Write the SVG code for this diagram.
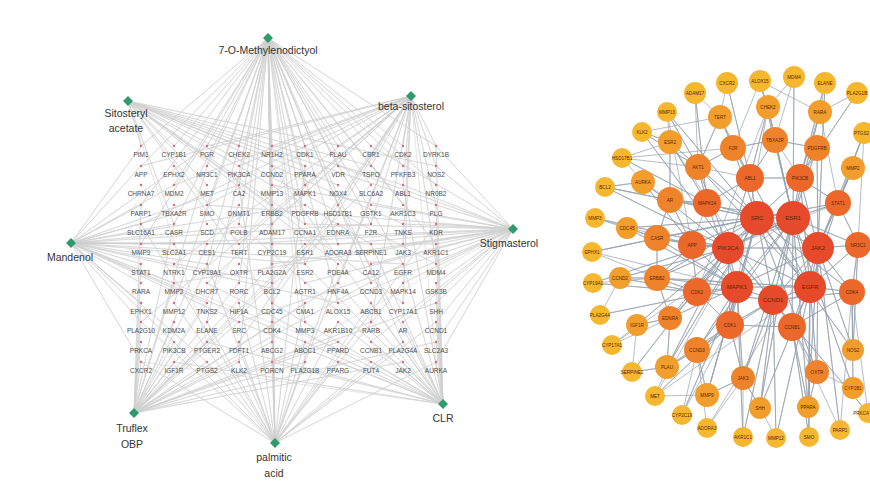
<svg xmlns="http://www.w3.org/2000/svg" width="870" height="492" viewBox="0 0 870 492">
<style>
.bg{fill:#fff}
.le{fill:none;stroke:#c8c8c8;stroke-width:.55;stroke-linejoin:round;opacity:.85}
.re{fill:none;stroke:#5f7186;stroke-width:.7;stroke-linejoin:round;opacity:.65}
.dia{fill:#2e9a6e}
.cl{font-family:"Liberation Sans",Arial,sans-serif;font-size:10.5px;fill:#333;text-anchor:middle}
.gene circle{fill:#e46a6a}
.gene text{font-family:"Liberation Sans",Arial,sans-serif;font-size:6.5px;fill:#4d4d4d;text-anchor:middle}
.net text{font-family:"Liberation Sans",Arial,sans-serif;font-size:4.6px;fill:#5c2700;text-anchor:middle}
.net .big text{font-size:6px}
.net text.edge{text-anchor:end}
.ny{fill:#f5b72d}.no1{fill:#f29e2c}.no2{fill:#ef832b}.no3{fill:#eb672a}.nr{fill:#e64a2a}
</style>
<rect class="bg" x="0" y="0" width="870" height="492"/>
<g id="connectors">
<g id="edges-left" class="le">
<path d="M268 38L141 146 268 38 174 146 268 38 207 146 268 38 239 146 268 38 272 146 268 38 305 146 268 38 338 146 268 38 371 146 268 38 403 146 268 38 436 146 268 38 141 166 268 38 207 166 268 38 272 166 268 38 338 166 268 38 403 166 268 38 174 185 268 38 239 185 268 38 305 185 268 38 371 185 268 38 436 185 268 38 141 205 268 38 207 205 268 38 272 205 268 38 338 205 268 38 403 205 268 38 174 224 268 38 239 224 268 38 305 224 268 38 371 224 268 38 141 244 268 38 272 244 268 38 338 244 268 38 436 244 268 38 207 264 268 38 305 264 268 38 403 264 268 38 239 283 268 38 272 283 268 38 371 283 268 38 174 303 268 38 272 303 268 38 338 303 268 38 207 322 268 38 305 322 268 38 272 342 268 38 403 342 268 38 239 362 268 38 305 362"/>
<path d="M128 101L141 146 128 101 174 146 128 101 239 146 128 101 305 166 128 101 371 166 128 101 436 166 128 101 207 185 128 101 338 185 128 101 403 185 128 101 272 205 128 101 436 205 128 101 174 224 128 101 305 224 128 101 403 224 128 101 239 244 128 101 371 244 128 101 338 264 128 101 436 264 128 101 272 303 128 101 403 303 128 101 207 342"/>
<path d="M411 96L436 146 411 96 403 146 411 96 338 146 411 96 272 146 411 96 207 146 411 96 141 166 411 96 239 166 411 96 371 166 411 96 436 166 411 96 174 185 411 96 305 185 411 96 403 185 411 96 207 205 411 96 338 205 411 96 436 205 411 96 141 224 411 96 272 224 411 96 371 224 411 96 239 244 411 96 403 244 411 96 174 264 411 96 305 264 411 96 436 264 411 96 207 283 411 96 338 283 411 96 272 303 411 96 403 303 411 96 141 322 411 96 371 322 411 96 239 342 411 96 305 362 411 96 436 362"/>
<path d="M71 243L141 146 71 243 207 146 71 243 141 166 71 243 174 185 71 243 239 185 71 243 141 205 71 243 207 205 71 243 305 205 71 243 141 224 71 243 174 224 71 243 272 224 71 243 371 224 71 243 141 244 71 243 174 244 71 243 239 244 71 243 338 244 71 243 436 244 71 243 141 264 71 243 207 264 71 243 305 264 71 243 403 264 71 243 141 283 71 243 174 283 71 243 272 283 71 243 141 303 71 243 207 303 71 243 338 303 71 243 141 322 71 243 239 322 71 243 174 342 71 243 305 342 71 243 141 362 71 243 207 362 71 243 371 362"/>
<path d="M513 229L436 146 513 229 371 146 513 229 436 166 513 229 338 166 513 229 403 185 513 229 272 185 513 229 436 205 513 229 371 205 513 229 207 205 513 229 436 224 513 229 403 224 513 229 305 224 513 229 436 244 513 229 403 244 513 229 338 244 513 229 239 244 513 229 141 244 513 229 436 264 513 229 371 264 513 229 272 264 513 229 436 283 513 229 403 283 513 229 305 283 513 229 174 283 513 229 436 303 513 229 338 303 513 229 436 322 513 229 403 322 513 229 239 322 513 229 436 342 513 229 371 342 513 229 436 362 513 229 272 362"/>
<path d="M134 413L141 362 134 413 174 362 134 413 207 362 134 413 239 362 134 413 305 362 134 413 403 362 134 413 141 342 134 413 174 342 134 413 207 342 134 413 272 342 134 413 338 342 134 413 436 342 134 413 141 322 134 413 174 322 134 413 239 322 134 413 371 322 134 413 141 303 134 413 207 303 134 413 305 303 134 413 436 303 134 413 174 283 134 413 239 283 134 413 338 283 134 413 141 264 134 413 272 264 134 413 403 264 134 413 207 244 134 413 305 244 134 413 174 224 134 413 338 224 134 413 141 205 134 413 239 205 134 413 371 185 134 413 207 166 134 413 305 146"/>
<path d="M275 443L141 362 275 443 207 362 275 443 239 362 275 443 272 362 275 443 305 362 275 443 338 362 275 443 371 362 275 443 436 362 275 443 174 342 275 443 239 342 275 443 272 342 275 443 305 342 275 443 403 342 275 443 141 322 275 443 207 322 275 443 272 322 275 443 338 322 275 443 436 322 275 443 174 303 275 443 239 303 275 443 305 303 275 443 371 303 275 443 272 283 275 443 403 283 275 443 207 264 275 443 338 264 275 443 272 244 275 443 141 224 275 443 436 224 275 443 239 185 275 443 305 166 275 443 272 146"/>
<path d="M443 404L436 362 443 404 403 362 443 404 371 362 443 404 338 362 443 404 272 362 443 404 174 362 443 404 436 342 443 404 403 342 443 404 371 342 443 404 305 342 443 404 207 342 443 404 436 322 443 404 403 322 443 404 338 322 443 404 239 322 443 404 436 303 443 404 371 303 443 404 272 303 443 404 436 283 443 404 338 283 443 404 207 283 443 404 403 264 443 404 305 264 443 404 436 244 443 404 371 244 443 404 239 224 443 404 436 205 443 404 338 205 443 404 403 185 443 404 272 166 443 404 436 146 443 404 141 362"/>
</g>
<g id="edges-right" class="re">
<path d="M757 218L793 218 757 218 728 248 757 218 818 248 757 218 737 287 757 218 810 287 757 218 773 300 757 218 750 178 757 218 800 178 757 218 707 203 757 218 692 245 757 218 697 292 757 218 838 203 757 218 852 292 757 218 730 325 757 218 698 167 757 218 733 148 757 218 670 200 757 218 657 238 757 218 657 278 757 218 627 228 757 218 707 395 757 218 667 367 757 218 817 372 757 218 853 350 757 218 667 112 757 218 592 252 757 218 655 396"/>
<path d="M793 218L728 248 793 218 818 248 793 218 737 287 793 218 810 287 793 218 773 300 793 218 800 178 793 218 838 203 793 218 858 245 793 218 792 327 793 218 775 140 793 218 817 148 793 218 820 112 793 218 768 107 793 218 670 200 793 218 657 278 793 218 697 350 793 218 743 378 793 218 760 408 793 218 808 407 793 218 853 388 793 218 794 77 793 218 760 81 793 218 593 283 793 218 612 345"/>
<path d="M728 248L818 248 728 248 737 287 728 248 810 287 728 248 773 300 728 248 750 178 728 248 692 245 728 248 697 292 728 248 730 325 728 248 698 167 728 248 643 182 728 248 620 278 728 248 637 325 728 248 670 318 728 248 667 367 728 248 657 238 728 248 642 132 728 248 605 187 728 248 595 218 728 248 632 372 728 248 868 413 728 248 838 203"/>
<path d="M818 248L737 287 818 248 810 287 818 248 773 300 818 248 838 203 818 248 858 245 818 248 852 292 818 248 800 178 818 248 817 148 818 248 853 168 818 248 853 350 818 248 817 372 818 248 808 407 818 248 840 430 818 248 792 327 818 248 825 83 818 248 864 133 818 248 707 428"/>
<path d="M737 287L810 287 737 287 773 300 737 287 697 292 737 287 730 325 737 287 692 245 737 287 657 278 737 287 670 318 737 287 697 350 737 287 743 378 737 287 707 395 737 287 682 415 737 287 743 437 737 287 707 203 737 287 657 238 737 287 627 228 737 287 600 315 737 287 592 252"/>
<path d="M810 287L773 300 810 287 852 292 810 287 792 327 810 287 858 245 810 287 817 372 810 287 760 408 810 287 808 407 810 287 809 437 810 287 776 438 810 287 657 278 810 287 750 178 810 287 800 178 810 287 698 167 810 287 838 203 810 287 655 396"/>
<path d="M773 300L730 325 773 300 792 327 773 300 852 292 773 300 697 292 773 300 743 378 773 300 760 408 773 300 776 438 773 300 743 437 773 300 697 350 773 300 670 142"/>
<path d="M750 178L800 178 750 178 707 203 750 178 733 148 750 178 775 140 750 178 768 107 750 178 720 117 750 178 727 83 750 178 698 167"/>
<path d="M800 178L838 203 800 178 817 148 800 178 820 112 800 178 825 83 800 178 857 93 800 178 775 140"/>
<path d="M707 203L698 167 707 203 670 200 707 203 670 142 707 203 695 93 707 203 622 158 707 203 692 245"/>
<path d="M692 245L657 238 692 245 670 200 692 245 697 292 692 245 657 278 692 245 643 182 692 245 667 112"/>
<path d="M697 292L730 325 697 292 657 278 697 292 670 318 697 292 620 278 697 292 593 283 697 292 768 107"/>
<path d="M838 203L858 245 838 203 853 168 838 203 864 133 838 203 820 112"/>
<path d="M858 245L852 292 858 245 853 350 858 245 864 133"/>
<path d="M852 292L792 327 852 292 853 388 852 292 853 350 852 292 868 413"/>
<path d="M730 325L792 327 730 325 697 350 730 325 743 378 730 325 667 367 730 325 655 396 730 325 768 107"/>
<path d="M792 327L817 372 792 327 808 407 792 327 809 437 792 327 840 430"/>
<path d="M698 167L733 148 698 167 720 117 698 167 670 142 698 167 642 132 698 167 667 112 698 167 695 93"/>
<path d="M733 148L775 140 733 148 720 117 733 148 760 81"/>
<path d="M775 140L768 107 775 140 817 148 775 140 794 77"/>
<path d="M670 200L657 238 670 200 670 142 670 200 605 187 670 200 643 182"/>
<path d="M657 238L627 228 657 238 657 278 657 238 595 218"/>
<path d="M657 278L620 278 657 278 670 318 657 278 592 252"/>
<path d="M670 318L637 325 670 318 667 367 670 318 612 345"/>
<path d="M697 350L667 367 697 350 707 395 697 350 682 415"/>
<path d="M743 378L707 395 743 378 760 408 743 378 707 428"/>
<path d="M817 372L808 407 817 372 853 388M670 142L642 132 670 142 622 158M643 182L605 187 643 182 622 158M667 367L632 372 667 367 655 396"/>
<path d="M622 158L733 148M605 187L757 218M642 132L720 117M595 218L692 245M592 252L657 238M593 283L657 278M600 315L620 278M612 345L637 325M632 372L637 325M655 396L707 395M682 415L730 325M707 428L697 350M743 437L743 378M776 438L760 408M809 437L808 407M840 430L852 292M727 83L720 117M760 81L768 107M794 77L768 107M825 83L820 112M857 93L820 112M695 93L720 117M667 112L670 142M760 81L820 112M622 158L698 167"/>
</g>
</g>
<g id="compounds">
<g id="c-7-O-Methylenodictyol"><polygon class="dia" points="268,33 273,38 268,43 263,38"/><text class="cl" x="268" y="54">7-O-Methylenodictyol</text></g>
<g id="c-Sitosteryl-acetate"><polygon class="dia" points="128,96 133,101 128,106 123,101"/><text class="cl" x="126" y="117">Sitosteryl</text><text class="cl" x="126" y="132">acetate</text></g>
<g id="c-beta-sitosterol"><polygon class="dia" points="411,91 416,96 411,101 406,96"/><text class="cl" x="411" y="110">beta-sitosterol</text></g>
<g id="c-Mandenol"><polygon class="dia" points="71,238 76,243 71,248 66,243"/><text class="cl" x="70" y="261">Mandenol</text></g>
<g id="c-Stigmasterol"><polygon class="dia" points="513,224 518,229 513,234 508,229"/><text class="cl" x="509" y="247">Stigmasterol</text></g>
<g id="c-Truflex-OBP"><polygon class="dia" points="134,408 139,413 134,418 129,413"/><text class="cl" x="132" y="432">Truflex</text><text class="cl" x="132" y="448">OBP</text></g>
<g id="c-palmitic-acid"><polygon class="dia" points="275,438 280,443 275,448 270,443"/><text class="cl" x="274" y="461">palmitic</text><text class="cl" x="274" y="477">acid</text></g>
<g id="c-CLR"><polygon class="dia" points="443,399 448,404 443,409 438,404"/><text class="cl" x="443" y="422">CLR</text></g>
</g>
<g id="genes" class="gene">
<g id="g-PIM1"><circle cx="141" cy="146" r="1.2"/><text x="141" y="156.5">PIM1</text></g>
<g id="g-CYP1B1"><circle cx="174" cy="146" r="1.2"/><text x="174" y="156.5">CYP1B1</text></g>
<g id="g-PGR"><circle cx="207" cy="146" r="1.2"/><text x="207" y="156.5">PGR</text></g>
<g id="g-CHEK2"><circle cx="239" cy="146" r="1.2"/><text x="239" y="156.5">CHEK2</text></g>
<g id="g-NR1H2"><circle cx="272" cy="146" r="1.2"/><text x="272" y="156.5">NR1H2</text></g>
<g id="g-CDK1"><circle cx="305" cy="146" r="1.2"/><text x="305" y="156.5">CDK1</text></g>
<g id="g-PLAU"><circle cx="338" cy="146" r="1.2"/><text x="338" y="156.5">PLAU</text></g>
<g id="g-CBR1"><circle cx="371" cy="146" r="1.2"/><text x="371" y="156.5">CBR1</text></g>
<g id="g-CDK2"><circle cx="403" cy="146" r="1.2"/><text x="403" y="156.5">CDK2</text></g>
<g id="g-DYRK1B"><circle cx="436" cy="146" r="1.2"/><text x="436" y="156.5">DYRK1B</text></g>
<g id="g-APP"><circle cx="141" cy="166" r="1.2"/><text x="141" y="176.5">APP</text></g>
<g id="g-EPHX2"><circle cx="174" cy="166" r="1.2"/><text x="174" y="176.5">EPHX2</text></g>
<g id="g-NR3C1"><circle cx="207" cy="166" r="1.2"/><text x="207" y="176.5">NR3C1</text></g>
<g id="g-PIK3CA"><circle cx="239" cy="166" r="1.2"/><text x="239" y="176.5">PIK3CA</text></g>
<g id="g-CCND2"><circle cx="272" cy="166" r="1.2"/><text x="272" y="176.5">CCND2</text></g>
<g id="g-PPARA"><circle cx="305" cy="166" r="1.2"/><text x="305" y="176.5">PPARA</text></g>
<g id="g-VDR"><circle cx="338" cy="166" r="1.2"/><text x="338" y="176.5">VDR</text></g>
<g id="g-TSPO"><circle cx="371" cy="166" r="1.2"/><text x="371" y="176.5">TSPO</text></g>
<g id="g-PFKFB3"><circle cx="403" cy="166" r="1.2"/><text x="403" y="176.5">PFKFB3</text></g>
<g id="g-NOS2"><circle cx="436" cy="166" r="1.2"/><text x="436" y="176.5">NOS2</text></g>
<g id="g-CHRNA7"><circle cx="141" cy="185" r="1.2"/><text x="141" y="195.5">CHRNA7</text></g>
<g id="g-MDM2"><circle cx="174" cy="185" r="1.2"/><text x="174" y="195.5">MDM2</text></g>
<g id="g-MET"><circle cx="207" cy="185" r="1.2"/><text x="207" y="195.5">MET</text></g>
<g id="g-CA2"><circle cx="239" cy="185" r="1.2"/><text x="239" y="195.5">CA2</text></g>
<g id="g-MMP13"><circle cx="272" cy="185" r="1.2"/><text x="272" y="195.5">MMP13</text></g>
<g id="g-MAPK1"><circle cx="305" cy="185" r="1.2"/><text x="305" y="195.5">MAPK1</text></g>
<g id="g-NOX4"><circle cx="338" cy="185" r="1.2"/><text x="338" y="195.5">NOX4</text></g>
<g id="g-SLC6A2"><circle cx="371" cy="185" r="1.2"/><text x="371" y="195.5">SLC6A2</text></g>
<g id="g-ABL1"><circle cx="403" cy="185" r="1.2"/><text x="403" y="195.5">ABL1</text></g>
<g id="g-NR0B2"><circle cx="436" cy="185" r="1.2"/><text x="436" y="195.5">NR0B2</text></g>
<g id="g-PARP1"><circle cx="141" cy="205" r="1.2"/><text x="141" y="215.5">PARP1</text></g>
<g id="g-TBXA2R"><circle cx="174" cy="205" r="1.2"/><text x="174" y="215.5">TBXA2R</text></g>
<g id="g-SMO"><circle cx="207" cy="205" r="1.2"/><text x="207" y="215.5">SMO</text></g>
<g id="g-DNMT1"><circle cx="239" cy="205" r="1.2"/><text x="239" y="215.5">DNMT1</text></g>
<g id="g-ERBB2"><circle cx="272" cy="205" r="1.2"/><text x="272" y="215.5">ERBB2</text></g>
<g id="g-PDGFRB"><circle cx="305" cy="205" r="1.2"/><text x="305" y="215.5">PDGFRB</text></g>
<g id="g-HSD17B1"><circle cx="338" cy="205" r="1.2"/><text x="338" y="215.5">HSD17B1</text></g>
<g id="g-GSTK1"><circle cx="371" cy="205" r="1.2"/><text x="371" y="215.5">GSTK1</text></g>
<g id="g-AKR1C3"><circle cx="403" cy="205" r="1.2"/><text x="403" y="215.5">AKR1C3</text></g>
<g id="g-PLG"><circle cx="436" cy="205" r="1.2"/><text x="436" y="215.5">PLG</text></g>
<g id="g-SLC16A1"><circle cx="141" cy="224" r="1.2"/><text x="141" y="234.5">SLC16A1</text></g>
<g id="g-CASR"><circle cx="174" cy="224" r="1.2"/><text x="174" y="234.5">CASR</text></g>
<g id="g-SCD"><circle cx="207" cy="224" r="1.2"/><text x="207" y="234.5">SCD</text></g>
<g id="g-POLB"><circle cx="239" cy="224" r="1.2"/><text x="239" y="234.5">POLB</text></g>
<g id="g-ADAM17"><circle cx="272" cy="224" r="1.2"/><text x="272" y="234.5">ADAM17</text></g>
<g id="g-CCNA1"><circle cx="305" cy="224" r="1.2"/><text x="305" y="234.5">CCNA1</text></g>
<g id="g-EDNRA"><circle cx="338" cy="224" r="1.2"/><text x="338" y="234.5">EDNRA</text></g>
<g id="g-F2R"><circle cx="371" cy="224" r="1.2"/><text x="371" y="234.5">F2R</text></g>
<g id="g-TNKS"><circle cx="403" cy="224" r="1.2"/><text x="403" y="234.5">TNKS</text></g>
<g id="g-KDR"><circle cx="436" cy="224" r="1.2"/><text x="436" y="234.5">KDR</text></g>
<g id="g-MMP9"><circle cx="141" cy="244" r="1.2"/><text x="141" y="254.5">MMP9</text></g>
<g id="g-SLC2A1"><circle cx="174" cy="244" r="1.2"/><text x="174" y="254.5">SLC2A1</text></g>
<g id="g-CES1"><circle cx="207" cy="244" r="1.2"/><text x="207" y="254.5">CES1</text></g>
<g id="g-TERT"><circle cx="239" cy="244" r="1.2"/><text x="239" y="254.5">TERT</text></g>
<g id="g-CYP2C19"><circle cx="272" cy="244" r="1.2"/><text x="272" y="254.5">CYP2C19</text></g>
<g id="g-ESR1"><circle cx="305" cy="244" r="1.2"/><text x="305" y="254.5">ESR1</text></g>
<g id="g-ADORA3"><circle cx="338" cy="244" r="1.2"/><text x="338" y="254.5">ADORA3</text></g>
<g id="g-SERPINE1"><circle cx="371" cy="244" r="1.2"/><text x="371" y="254.5">SERPINE1</text></g>
<g id="g-JAK3"><circle cx="403" cy="244" r="1.2"/><text x="403" y="254.5">JAK3</text></g>
<g id="g-AKR1C1"><circle cx="436" cy="244" r="1.2"/><text x="436" y="254.5">AKR1C1</text></g>
<g id="g-STAT1"><circle cx="141" cy="264" r="1.2"/><text x="141" y="274.5">STAT1</text></g>
<g id="g-NTRK1"><circle cx="174" cy="264" r="1.2"/><text x="174" y="274.5">NTRK1</text></g>
<g id="g-CYP19A1"><circle cx="207" cy="264" r="1.2"/><text x="207" y="274.5">CYP19A1</text></g>
<g id="g-OXTR"><circle cx="239" cy="264" r="1.2"/><text x="239" y="274.5">OXTR</text></g>
<g id="g-PLA2G2A"><circle cx="272" cy="264" r="1.2"/><text x="272" y="274.5">PLA2G2A</text></g>
<g id="g-ESR2"><circle cx="305" cy="264" r="1.2"/><text x="305" y="274.5">ESR2</text></g>
<g id="g-PDE4A"><circle cx="338" cy="264" r="1.2"/><text x="338" y="274.5">PDE4A</text></g>
<g id="g-CA12"><circle cx="371" cy="264" r="1.2"/><text x="371" y="274.5">CA12</text></g>
<g id="g-EGFR"><circle cx="403" cy="264" r="1.2"/><text x="403" y="274.5">EGFR</text></g>
<g id="g-MDM4"><circle cx="436" cy="264" r="1.2"/><text x="436" y="274.5">MDM4</text></g>
<g id="g-RARA"><circle cx="141" cy="283" r="1.2"/><text x="141" y="293.5">RARA</text></g>
<g id="g-MMP2"><circle cx="174" cy="283" r="1.2"/><text x="174" y="293.5">MMP2</text></g>
<g id="g-DHCR7"><circle cx="207" cy="283" r="1.2"/><text x="207" y="293.5">DHCR7</text></g>
<g id="g-RORC"><circle cx="239" cy="283" r="1.2"/><text x="239" y="293.5">RORC</text></g>
<g id="g-BCL2"><circle cx="272" cy="283" r="1.2"/><text x="272" y="293.5">BCL2</text></g>
<g id="g-AGTR1"><circle cx="305" cy="283" r="1.2"/><text x="305" y="293.5">AGTR1</text></g>
<g id="g-HNF4A"><circle cx="338" cy="283" r="1.2"/><text x="338" y="293.5">HNF4A</text></g>
<g id="g-CCND3"><circle cx="371" cy="283" r="1.2"/><text x="371" y="293.5">CCND3</text></g>
<g id="g-MAPK14"><circle cx="403" cy="283" r="1.2"/><text x="403" y="293.5">MAPK14</text></g>
<g id="g-GSK3B"><circle cx="436" cy="283" r="1.2"/><text x="436" y="293.5">GSK3B</text></g>
<g id="g-EPHX1"><circle cx="141" cy="303" r="1.2"/><text x="141" y="313.5">EPHX1</text></g>
<g id="g-MMP12"><circle cx="174" cy="303" r="1.2"/><text x="174" y="313.5">MMP12</text></g>
<g id="g-TNKS2"><circle cx="207" cy="303" r="1.2"/><text x="207" y="313.5">TNKS2</text></g>
<g id="g-HIF1A"><circle cx="239" cy="303" r="1.2"/><text x="239" y="313.5">HIF1A</text></g>
<g id="g-CDC45"><circle cx="272" cy="303" r="1.2"/><text x="272" y="313.5">CDC45</text></g>
<g id="g-CMA1"><circle cx="305" cy="303" r="1.2"/><text x="305" y="313.5">CMA1</text></g>
<g id="g-ALOX15"><circle cx="338" cy="303" r="1.2"/><text x="338" y="313.5">ALOX15</text></g>
<g id="g-ABCB1"><circle cx="371" cy="303" r="1.2"/><text x="371" y="313.5">ABCB1</text></g>
<g id="g-CYP17A1"><circle cx="403" cy="303" r="1.2"/><text x="403" y="313.5">CYP17A1</text></g>
<g id="g-SHH"><circle cx="436" cy="303" r="1.2"/><text x="436" y="313.5">SHH</text></g>
<g id="g-PLA2G10"><circle cx="141" cy="322" r="1.2"/><text x="141" y="332.5">PLA2G10</text></g>
<g id="g-KDM2A"><circle cx="174" cy="322" r="1.2"/><text x="174" y="332.5">KDM2A</text></g>
<g id="g-ELANE"><circle cx="207" cy="322" r="1.2"/><text x="207" y="332.5">ELANE</text></g>
<g id="g-SRC"><circle cx="239" cy="322" r="1.2"/><text x="239" y="332.5">SRC</text></g>
<g id="g-CDK4"><circle cx="272" cy="322" r="1.2"/><text x="272" y="332.5">CDK4</text></g>
<g id="g-MMP3"><circle cx="305" cy="322" r="1.2"/><text x="305" y="332.5">MMP3</text></g>
<g id="g-AKR1B10"><circle cx="338" cy="322" r="1.2"/><text x="338" y="332.5">AKR1B10</text></g>
<g id="g-RARB"><circle cx="371" cy="322" r="1.2"/><text x="371" y="332.5">RARB</text></g>
<g id="g-AR"><circle cx="403" cy="322" r="1.2"/><text x="403" y="332.5">AR</text></g>
<g id="g-CCND1"><circle cx="436" cy="322" r="1.2"/><text x="436" y="332.5">CCND1</text></g>
<g id="g-PRKCA"><circle cx="141" cy="342" r="1.2"/><text x="141" y="352.5">PRKCA</text></g>
<g id="g-PIK3CB"><circle cx="174" cy="342" r="1.2"/><text x="174" y="352.5">PIK3CB</text></g>
<g id="g-PTGER2"><circle cx="207" cy="342" r="1.2"/><text x="207" y="352.5">PTGER2</text></g>
<g id="g-FDFT1"><circle cx="239" cy="342" r="1.2"/><text x="239" y="352.5">FDFT1</text></g>
<g id="g-ABCG2"><circle cx="272" cy="342" r="1.2"/><text x="272" y="352.5">ABCG2</text></g>
<g id="g-ABCC1"><circle cx="305" cy="342" r="1.2"/><text x="305" y="352.5">ABCC1</text></g>
<g id="g-PPARD"><circle cx="338" cy="342" r="1.2"/><text x="338" y="352.5">PPARD</text></g>
<g id="g-CCNB1"><circle cx="371" cy="342" r="1.2"/><text x="371" y="352.5">CCNB1</text></g>
<g id="g-PLA2G4A"><circle cx="403" cy="342" r="1.2"/><text x="403" y="352.5">PLA2G4A</text></g>
<g id="g-SLC2A3"><circle cx="436" cy="342" r="1.2"/><text x="436" y="352.5">SLC2A3</text></g>
<g id="g-CXCR2"><circle cx="141" cy="362" r="1.2"/><text x="141" y="372.5">CXCR2</text></g>
<g id="g-IGF1R"><circle cx="174" cy="362" r="1.2"/><text x="174" y="372.5">IGF1R</text></g>
<g id="g-PTGS2"><circle cx="207" cy="362" r="1.2"/><text x="207" y="372.5">PTGS2</text></g>
<g id="g-KLK2"><circle cx="239" cy="362" r="1.2"/><text x="239" y="372.5">KLK2</text></g>
<g id="g-PORCN"><circle cx="272" cy="362" r="1.2"/><text x="272" y="372.5">PORCN</text></g>
<g id="g-PLA2G1B"><circle cx="305" cy="362" r="1.2"/><text x="305" y="372.5">PLA2G1B</text></g>
<g id="g-PPARG"><circle cx="338" cy="362" r="1.2"/><text x="338" y="372.5">PPARG</text></g>
<g id="g-FUT4"><circle cx="371" cy="362" r="1.2"/><text x="371" y="372.5">FUT4</text></g>
<g id="g-JAK2"><circle cx="403" cy="362" r="1.2"/><text x="403" y="372.5">JAK2</text></g>
<g id="g-AURKA"><circle cx="436" cy="362" r="1.2"/><text x="436" y="372.5">AURKA</text></g>
</g>
<g id="network" class="net">
<g id="n-CXCR2"><circle class="ny" cx="727" cy="83" r="11"/><text x="727" y="84.7">CXCR2</text></g>
<g id="n-ALOX15"><circle class="ny" cx="760" cy="81" r="11"/><text x="760" y="82.7">ALOX15</text></g>
<g id="n-MDM4"><circle class="ny" cx="794" cy="77" r="11"/><text x="794" y="78.7">MDM4</text></g>
<g id="n-ELANE"><circle class="ny" cx="825" cy="83" r="11"/><text x="825" y="84.7">ELANE</text></g>
<g id="n-PLA2G1B"><circle class="ny" cx="857" cy="93" r="11"/><text x="857" y="94.7">PLA2G1B</text></g>
<g id="n-PTGS2"><circle class="ny" cx="864" cy="133" r="11"/><text class="edge" x="869" y="134.7">PTGS2</text></g>
<g id="n-ADAM17"><circle class="ny" cx="695" cy="93" r="11"/><text x="695" y="94.7">ADAM17</text></g>
<g id="n-MMP13"><circle class="ny" cx="667" cy="112" r="10"/><text x="667" y="113.7">MMP13</text></g>
<g id="n-KLK2"><circle class="ny" cx="642" cy="132" r="10"/><text x="642" y="133.7">KLK2</text></g>
<g id="n-HSD17B1"><circle class="ny" cx="622" cy="158" r="10"/><text x="622" y="159.7">HSD17B1</text></g>
<g id="n-BCL2"><circle class="ny" cx="605" cy="187" r="10"/><text x="605" y="188.7">BCL2</text></g>
<g id="n-MMP3"><circle class="ny" cx="595" cy="218" r="10"/><text x="595" y="219.7">MMP3</text></g>
<g id="n-EPHX1"><circle class="ny" cx="592" cy="252" r="10"/><text x="592" y="253.7">EPHX1</text></g>
<g id="n-CYP19A1"><circle class="ny" cx="593" cy="283" r="10"/><text x="593" y="284.7">CYP19A1</text></g>
<g id="n-PLA2G4A"><circle class="ny" cx="600" cy="315" r="10"/><text x="600" y="316.7">PLA2G4A</text></g>
<g id="n-CYP17A1"><circle class="ny" cx="612" cy="345" r="10"/><text x="612" y="346.7">CYP17A1</text></g>
<g id="n-SERPINE1"><circle class="ny" cx="632" cy="372" r="10"/><text x="632" y="373.7">SERPINE1</text></g>
<g id="n-MET"><circle class="ny" cx="655" cy="396" r="10"/><text x="655" y="397.7">MET</text></g>
<g id="n-CYP2C19"><circle class="ny" cx="682" cy="415" r="10"/><text x="682" y="416.7">CYP2C19</text></g>
<g id="n-ADORA3"><circle class="ny" cx="707" cy="428" r="10"/><text x="707" y="429.7">ADORA3</text></g>
<g id="n-AKR1C1"><circle class="ny" cx="743" cy="437" r="10"/><text x="743" y="438.7">AKR1C1</text></g>
<g id="n-MMP12"><circle class="ny" cx="776" cy="438" r="10"/><text x="776" y="439.7">MMP12</text></g>
<g id="n-SMO"><circle class="ny" cx="809" cy="437" r="10"/><text x="809" y="438.7">SMO</text></g>
<g id="n-PARP1"><circle class="ny" cx="840" cy="430" r="10"/><text x="840" y="431.7">PARP1</text></g>
<g id="n-PRKCA"><circle class="ny" cx="868" cy="413" r="10"/><text class="edge" x="869" y="414.7">PRKCA</text></g>
<g id="n-TERT"><circle class="no1" cx="720" cy="117" r="12"/><text x="720" y="118.7">TERT</text></g>
<g id="n-CHEK2"><circle class="no1" cx="768" cy="107" r="12"/><text x="768" y="108.7">CHEK2</text></g>
<g id="n-RARA"><circle class="no1" cx="820" cy="112" r="12"/><text x="820" y="113.7">RARA</text></g>
<g id="n-ESR2"><circle class="no1" cx="670" cy="142" r="12"/><text x="670" y="143.7">ESR2</text></g>
<g id="n-AURKA"><circle class="no1" cx="643" cy="182" r="12"/><text x="643" y="183.7">AURKA</text></g>
<g id="n-CDC45"><circle class="no1" cx="627" cy="228" r="11"/><text x="627" y="229.7">CDC45</text></g>
<g id="n-CCND2"><circle class="no1" cx="620" cy="278" r="11"/><text x="620" y="279.7">CCND2</text></g>
<g id="n-IGF1R"><circle class="no1" cx="637" cy="325" r="11"/><text x="637" y="326.7">IGF1R</text></g>
<g id="n-PLAU"><circle class="no1" cx="667" cy="367" r="12"/><text x="667" y="368.7">PLAU</text></g>
<g id="n-MMP9"><circle class="no1" cx="707" cy="395" r="12"/><text x="707" y="396.7">MMP9</text></g>
<g id="n-SHH"><circle class="no1" cx="760" cy="408" r="11"/><text x="760" y="409.7">SHH</text></g>
<g id="n-PPARA"><circle class="no1" cx="808" cy="407" r="11"/><text x="808" y="408.7">PPARA</text></g>
<g id="n-CYP1B1"><circle class="no1" cx="853" cy="388" r="11"/><text x="853" y="389.7">CYP1B1</text></g>
<g id="n-NOS2"><circle class="no1" cx="853" cy="350" r="11"/><text x="853" y="351.7">NOS2</text></g>
<g id="n-MMP2"><circle class="no1" cx="853" cy="168" r="12"/><text x="853" y="169.7">MMP2</text></g>
<g id="n-AKT1"><circle class="no2" cx="698" cy="167" r="13"/><text x="698" y="168.7">AKT1</text></g>
<g id="n-F2R"><circle class="no2" cx="733" cy="148" r="13"/><text x="733" y="149.7">F2R</text></g>
<g id="n-TBXA2R"><circle class="no2" cx="775" cy="140" r="13"/><text x="775" y="141.7">TBXA2R</text></g>
<g id="n-PDGFRB"><circle class="no2" cx="817" cy="148" r="13"/><text x="817" y="149.7">PDGFRB</text></g>
<g id="n-AR"><circle class="no2" cx="670" cy="200" r="13"/><text x="670" y="201.7">AR</text></g>
<g id="n-CASR"><circle class="no2" cx="657" cy="238" r="13"/><text x="657" y="239.7">CASR</text></g>
<g id="n-ERBB2"><circle class="no2" cx="657" cy="278" r="13"/><text x="657" y="279.7">ERBB2</text></g>
<g id="n-EDNRA"><circle class="no2" cx="670" cy="318" r="12"/><text x="670" y="319.7">EDNRA</text></g>
<g id="n-CCND3"><circle class="no2" cx="697" cy="350" r="13"/><text x="697" y="351.7">CCND3</text></g>
<g id="n-JAK3"><circle class="no2" cx="743" cy="378" r="12"/><text x="743" y="379.7">JAK3</text></g>
<g id="n-OXTR"><circle class="no2" cx="817" cy="372" r="12"/><text x="817" y="373.7">OXTR</text></g>
<g id="n-ABL1"><circle class="no3" cx="750" cy="178" r="14"/><text x="750" y="179.7">ABL1</text></g>
<g id="n-PIK3CB"><circle class="no3" cx="800" cy="178" r="14"/><text x="800" y="179.7">PIK3CB</text></g>
<g id="n-MAPK14"><circle class="no3" cx="707" cy="203" r="14"/><text x="707" y="204.7">MAPK14</text></g>
<g id="n-APP"><circle class="no3" cx="692" cy="245" r="14"/><text x="692" y="246.7">APP</text></g>
<g id="n-CDK2"><circle class="no3" cx="697" cy="292" r="14"/><text x="697" y="293.7">CDK2</text></g>
<g id="n-STAT1"><circle class="no3" cx="838" cy="203" r="13"/><text x="838" y="204.7">STAT1</text></g>
<g id="n-NR3C1"><circle class="no3" cx="858" cy="245" r="13"/><text x="858" y="246.7">NR3C1</text></g>
<g id="n-CDK4"><circle class="no3" cx="852" cy="292" r="13"/><text x="852" y="293.7">CDK4</text></g>
<g id="n-CDK1"><circle class="no3" cx="730" cy="325" r="14"/><text x="730" y="326.7">CDK1</text></g>
<g id="n-CCNB1"><circle class="no3" cx="792" cy="327" r="14"/><text x="792" y="328.7">CCNB1</text></g>
<g class="big">
<g id="n-SRC"><circle class="nr" cx="757" cy="218" r="17"/><text x="757" y="220">SRC</text></g>
<g id="n-ESR1"><circle class="nr" cx="793" cy="218" r="17"/><text x="793" y="220">ESR1</text></g>
<g id="n-PIK3CA"><circle class="nr" cx="728" cy="248" r="16"/><text x="728" y="250">PIK3CA</text></g>
<g id="n-JAK2"><circle class="nr" cx="818" cy="248" r="16"/><text x="818" y="250">JAK2</text></g>
<g id="n-MAPK1"><circle class="nr" cx="737" cy="287" r="16"/><text x="737" y="289">MAPK1</text></g>
<g id="n-EGFR"><circle class="nr" cx="810" cy="287" r="16"/><text x="810" y="289">EGFR</text></g>
<g id="n-CCND1"><circle class="nr" cx="773" cy="300" r="15"/><text x="773" y="302">CCND1</text></g>
</g>
</g>
</svg>
